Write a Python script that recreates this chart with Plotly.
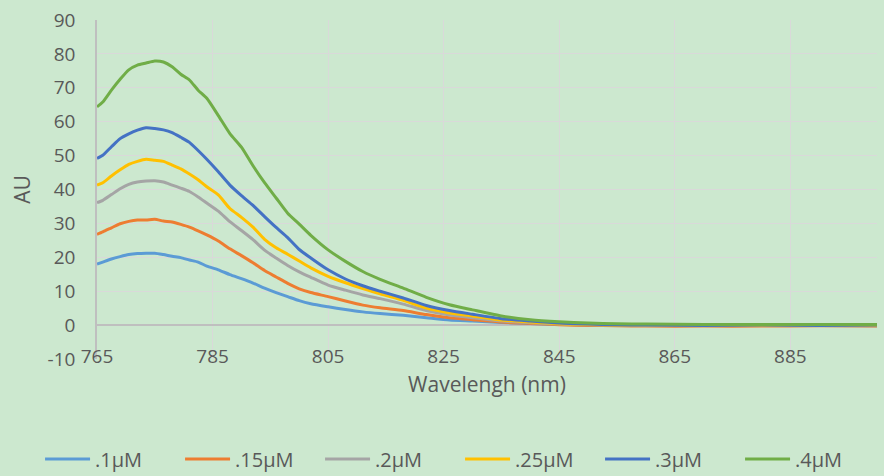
import plotly.graph_objects as go

wavelength = [765, 766, 767.5, 769, 770.5, 772, 773.5, 775, 776.5, 778, 779.5, 781, 782.5, 784,
              786, 788, 790, 792, 794, 796, 798, 800, 802, 805, 808, 811, 814, 818, 822, 826,
              830, 835, 840, 845, 850, 855, 860, 870, 880, 890, 900]

s_01 = [18.0, 18.6, 19.5, 20.2, 20.8, 21.1, 21.2, 21.2, 20.8, 20.3, 19.9, 19.2, 18.6, 17.4,
        16.3, 14.9, 13.7, 12.4, 10.9, 9.6, 8.4, 7.2, 6.3, 5.4, 4.6, 3.9, 3.4, 2.9, 2.2, 1.5,
        1.2, 0.8, 0.5, 0.2, 0.1, 0.0, -0.1, -0.1, -0.1, -0.1, -0.2]
s_015 = [26.8, 27.5, 28.7, 29.9, 30.6, 31.0, 31.0, 31.2, 30.7, 30.4, 29.7, 28.9, 27.8, 26.6,
         24.8, 22.5, 20.5, 18.4, 16.1, 14.2, 12.3, 10.7, 9.6, 8.4, 7.1, 5.9, 5.1, 4.3, 3.1, 2.2,
         1.6, 0.9, 0.5, 0.1, -0.1, -0.2, -0.3, -0.3, -0.3, -0.2, -0.3]
s_02 = [36.1, 36.8, 38.5, 40.2, 41.5, 42.2, 42.5, 42.6, 42.2, 41.3, 40.4, 39.4, 37.8, 36.0,
        33.6, 30.5, 27.9, 25.2, 22.1, 19.8, 17.6, 15.7, 14.1, 11.8, 10.3, 8.9, 7.8, 6.2, 4.3, 3.0,
        2.2, 1.2, 0.7, 0.3, 0.1, 0.0, -0.1, -0.1, -0.1, -0.1, -0.1]
s_025 = [41.3, 42.0, 44.0, 45.8, 47.4, 48.3, 48.9, 48.6, 48.3, 47.2, 46.1, 44.6, 42.9, 40.8,
         38.4, 34.4, 31.8, 28.9, 25.3, 22.8, 20.9, 18.9, 16.9, 14.4, 12.5, 10.8, 9.2, 7.3, 5.0, 3.6,
         2.7, 1.5, 0.9, 0.4, 0.2, 0.0, 0.0, -0.1, -0.1, 0.0, -0.1]
s_03 = [49.2, 50.1, 52.6, 55.0, 56.4, 57.5, 58.2, 58.0, 57.6, 56.8, 55.4, 53.9, 51.5, 48.9,
        45.2, 41.3, 38.2, 35.3, 32.0, 28.8, 25.8, 22.3, 19.8, 16.3, 13.6, 11.6, 10.0, 8.0, 5.8, 4.3,
        3.2, 1.9, 1.2, 0.6, 0.3, 0.1, 0.0, -0.1, 0.0, -0.1, 0.0]
s_04 = [64.4, 65.8, 69.3, 72.5, 75.3, 76.7, 77.3, 77.9, 77.6, 76.2, 74.0, 72.3, 69.3, 66.9,
        61.8, 56.5, 52.5, 47.0, 42.0, 37.5, 33.0, 29.8, 26.5, 22.2, 18.8, 15.8, 13.5, 10.9, 8.2, 6.0,
        4.5, 2.7, 1.6, 1.0, 0.6, 0.4, 0.3, 0.2, 0.2, 0.2, 0.2]

series_names = [".1μM", ".15μM", ".2μM", ".25μM", ".3μM", ".4μM"]
series_values = [s_01, s_015, s_02, s_025, s_03, s_04]
colors = ["#5B9BD5", "#ED7D31", "#A5A5A5", "#FFC000", "#4472C4", "#70AD47"]

x_ticks = [765, 785, 805, 825, 845, 865, 885]
y_ticks = [-10, 0, 10, 20, 30, 40, 50, 60, 70, 80, 90]
y_ticktext = ["-10", "0", "10", "20", "30", "40", "50", "60", "70", "80", "90"]

fig = go.Figure()
for name, vals, col in zip(series_names, series_values, colors):
    fig.add_trace(go.Scatter(x=wavelength, y=vals, name=name, mode="lines",
                             line=dict(color=col, width=3, shape="spline", smoothing=0.6)))

txt = "#595959"
bg = "#CCE8CF"
fig.update_layout(
    width=884, height=476,
    margin=dict(l=97, r=7, t=20, b=117, autoexpand=False),
    paper_bgcolor=bg, plot_bgcolor=bg,
    font=dict(family="Open Sans", color=txt, size=18),
    xaxis=dict(range=[765, 900], tickvals=x_ticks, showgrid=True, gridcolor="#D9D9D9",
               gridwidth=1.3, zeroline=False, showline=False, ticks="", automargin=False,
               ticklabelstandoff=-16, tickfont=dict(size=19, color=txt),
               title=dict(text="Wavelengh (nm)", font=dict(size=21, color=txt), standoff=9)),
    yaxis=dict(range=[-10, 90], tickvals=y_ticks, ticktext=y_ticktext, showgrid=True,
               gridcolor="#D9D9D9", gridwidth=1.3, zeroline=True, zerolinecolor="#BFBFBF",
               zerolinewidth=1.5, showline=True, linecolor="#BFBFBF", linewidth=1.5, ticks="",
               automargin=False, ticklabelstandoff=16, tickfont=dict(size=19, color=txt),
               title=dict(text="AU", font=dict(size=21, color=txt), standoff=11)),
    legend=dict(orientation="h", xref="paper", yref="paper", x=-0.073, y=-0.295,
                xanchor="left", yanchor="middle", font=dict(size=20, color=txt),
                itemwidth=45, entrywidth=80, bgcolor="rgba(0,0,0,0)"),
)

fig.write_html("out.html",
               config={"displayModeBar": False, "responsive": False},
               post_script="document.body.style.margin='0px';"
                           "document.body.style.overflow='hidden';"
                           "document.documentElement.style.overflow='hidden';"
                           "document.body.style.background='" + bg + "';")
